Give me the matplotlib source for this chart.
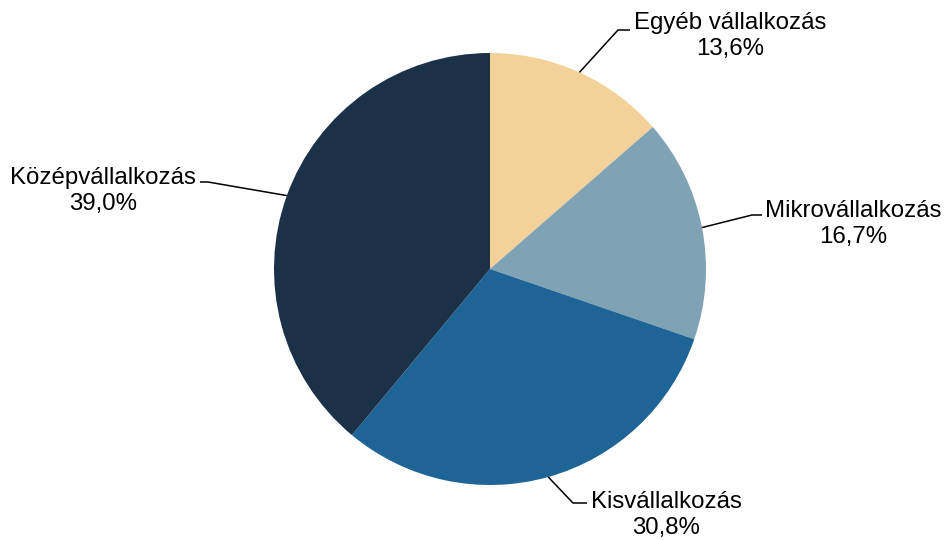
import numpy as np
import matplotlib
matplotlib.use("Agg")
import matplotlib.pyplot as plt

plt.rcParams['font.family'] = ['Liberation Sans', 'DejaVu Sans']

categories = ["Egyéb vállalkozás", "Mikrovállalkozás", "Kisvállalkozás", "Középvállalkozás"]
shares = [13.6, 16.7, 30.8, 39.0]
colors = ["#F2D299", "#7FA2B5", "#1E6496", "#1B3148"]

W, H = 944, 540
fig = plt.figure(figsize=(W / 100, H / 100), dpi=100)
ax = fig.add_axes([0, 0, 1, 1])

cx, cy, r = 490, H - 269, 216
wedges, _ = ax.pie(shares, colors=colors, startangle=90, counterclock=False,
                   center=(cx, cy), radius=r, frame=True,
                   wedgeprops=dict(linewidth=0))
ax.set_xlim(0, W)
ax.set_ylim(0, H)
ax.set_aspect('equal')
ax.axis('off')

# label layout: (elbow x, elbow y, end x, text center x, text center y) in pixels from top-left
layout = [
    (618, 30, 630, 730, 36),
    (752, 215, 762, 853, 224),
    (573, 503, 587, 666, 515),
    (208, 182, 200, 103, 191),
]

for w, name, val, (ex, ey, tx, lx, ly) in zip(wedges, categories, shares, layout):
    mid = np.deg2rad((w.theta1 + w.theta2) / 2)
    sx, sy = cx + r * np.cos(mid), cy + r * np.sin(mid)
    ax.plot([sx, ex, tx], [sy, H - ey, H - ey], color='black', lw=1.1,
            solid_capstyle='butt', zorder=3)
    label = f"{name}\n{val:.1f}%".replace('.', ',')
    ax.text(lx, H - ly, label, ha='center', va='center', multialignment='center',
            fontsize=17.3, linespacing=1.2, color='black')

fig.savefig("out.png", dpi=100, facecolor='white')
